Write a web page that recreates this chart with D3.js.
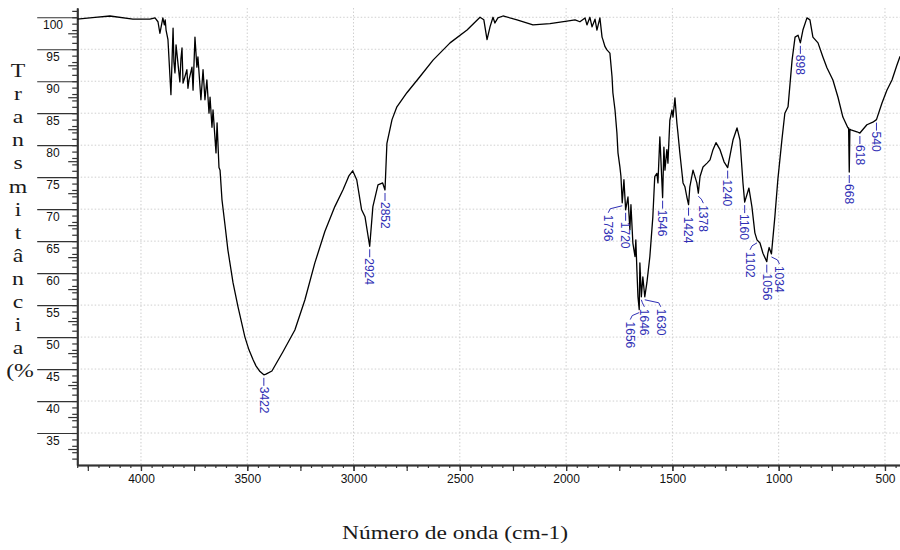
<!DOCTYPE html>
<html>
<head>
<meta charset="utf-8">
<title>Espectro FTIR</title>
<script src="https://d3js.org/d3.v7.min.js"></script>
<style>
    body { margin: 0; background: #fff; }
    svg { display: block; }
</style>
</head>
<body>
<div id="chart"></div>
<script>

// spectrum: wavenumber (cm-1) and transmittance (%)
var wavenumber = [4300, 4216, 4146, 4038, 3958, 3934, 3920, 3911, 3897, 3890, 3886, 3882, 3873, 3859, 3849, 3845, 3840, 3835,
    3817, 3812, 3807, 3802, 3784, 3779, 3774, 3760, 3755, 3746, 3737, 3732, 3718, 3708, 3699, 3690, 3680, 3675, 3666, 3661,
    3647, 3642, 3633, 3628, 3619, 3605, 3591, 3567, 3544, 3511, 3492, 3473, 3459, 3440, 3422, 3412, 3384, 3332, 3276, 3229,
    3182, 3135, 3088, 3050, 3022, 3004, 2985, 2962, 2946,
    2924, 2909, 2885, 2863, 2852, 2843, 2819, 2796, 2749, 2688, 2626, 2546, 2466, 2405, 2387, 2372, 2358, 2344, 2335, 2321,
    2297, 2231, 2156, 2076, 1996, 1958, 1935, 1911, 1902, 1888, 1878, 1864, 1855, 1841, 1831, 1827, 1817, 1808, 1794, 1784,
    1780, 1770, 1761, 1756, 1747, 1742, 1736, 1728, 1720, 1709, 1700, 1695, 1686, 1676, 1672, 1667, 1662, 1656, 1653, 1646,
    1639, 1630, 1620, 1606, 1592, 1583, 1573, 1568, 1559, 1546, 1540, 1535, 1526, 1521, 1512, 1502, 1497, 1488, 1479, 1474,
    1465, 1455, 1450, 1441, 1432, 1424, 1418, 1403, 1385, 1378, 1370, 1356, 1337, 1323, 1309, 1295, 1276, 1257, 1240, 1215,
    1196, 1182, 1168, 1160, 1140, 1126, 1112, 1102, 1088, 1074, 1056, 1051, 1045, 1034, 1018, 1004, 985, 971, 956, 937, 923,
    909, 898, 886, 867, 853, 839, 815, 792, 773, 745, 721, 698, 674, 671, 668, 665, 660, 632, 618, 585, 557, 540, 514, 491,
    467, 444, 430, 402];
var transmit = [99.7, 100.0, 100.2, 99.7, 99.7, 99.9, 99.3, 97.5, 99.9, 98.8, 99.6, 98.0, 96.5, 87.9, 98.3, 93.0, 91.3, 95.7,
    89.9, 93.5, 95.2, 89.7, 91.8, 88.9, 90.2, 92.2, 88.6, 96.9, 92.2, 93.8, 87.1, 91.8, 87.1, 90.2, 85.0, 87.5, 82.8, 85.5,
    78.8, 83.5, 76.5, 76.1, 71.5, 67.6, 63.6, 58.5, 54.8, 50.0, 48.0, 46.5, 45.5, 44.6, 44.1, 44.2, 44.7, 47.7, 51.1, 55.8,
    61.6, 66.5, 70.4, 73.0, 75.2, 76.0, 74.6, 69.9, 68.8,
    64.2, 70.4, 73.8, 74.1, 73.0, 80.3, 84.0, 86.0, 88.2, 90.7, 93.3, 96.0, 98.0, 100.0, 99.6, 96.5, 98.5, 100.0, 99.1, 99.9,
    100.2, 99.6, 98.8, 99.0, 99.4, 99.6, 99.3, 99.9, 98.8, 100.0, 98.5, 99.7, 98.0, 99.9, 96.9, 96.5, 95.4, 94.9, 94.4, 90.7,
    88.2, 85.5, 81.9, 78.8, 76.6, 75.1, 71.0, 74.6, 69.9, 71.9, 66.8, 70.7, 64.7, 62.6, 65.2, 60.5, 56.3, 54.3, 61.6, 56.3,
    59.4, 56.3, 58.5, 62.6, 68.8, 75.1, 75.6, 74.1, 81.3, 71.8, 79.7, 76.1, 79.3, 77.2, 83.9, 85.5, 84.4, 87.4, 83.5, 81.9,
    78.8, 75.7, 74.1, 73.5, 71.9, 70.7, 73.5, 76.1, 74.1, 72.5, 75.1, 76.6, 77.2, 77.7, 79.3, 80.4, 79.3, 77.4, 76.5, 80.8,
    82.7, 80.8, 74.1, 71.1, 73.3, 70.4, 66.3, 65.2, 64.7, 63.1, 61.8, 63.1, 64.0, 63.0, 68.8, 74.6, 80.8, 85.0, 86.0, 93.3, 96.9,
    97.2, 96.0, 98.0, 99.9, 99.6, 96.9, 96.0, 93.8, 92.1, 90.2, 87.5, 84.4, 82.7, 82.7, 75.8, 82.5, 82.4, 82.1, 81.9, 83.2, 83.6, 84.0, 86.6, 88.6,
    90.2, 92.5, 93.8, 94.9];

// picked peaks
var peakWn = [3422, 2924, 2852, 1736, 1720, 1656, 1646, 1630, 1546, 1424, 1378, 1240, 1160, 1102, 1056, 1034, 898, 668, 618, 540];

var xTicks = [4000, 3500, 3000, 2500, 2000, 1500, 1000, 500];
var yTicks = [35, 40, 45, 50, 55, 60, 65, 70, 75, 80, 85, 90, 95, 100];

var yTitle = "Transmitância (%";
var xTitle = "Número de onda (cm-1)";

var W = 900, H = 550;
var plotLeft = 77.2, plotBottom = 465, plotTop = 8;

var svg = d3.select("#chart")
    .append("svg")
    .attr("width", W)
    .attr("height", H);

var x = d3.scaleLinear()
    .domain([4300, 400])
    .range([plotLeft, plotLeft + 3900 * 0.212571]);

var y = d3.scaleLinear()
    .domain([30, 101.45])
    .range([plotBottom, plotTop]);

svg.append("clipPath").attr("id", "plot")
    .append("rect")
    .attr("x", plotLeft).attr("y", 0)
    .attr("width", W - plotLeft).attr("height", plotBottom);

// dotted grid
var grid = svg.append("g")
    .attr("stroke", "#cfcfcf")
    .attr("stroke-width", 1)
    .attr("stroke-dasharray", "1.5,2");
grid.selectAll("line.h")
    .data(yTicks)
    .enter().append("line")
    .attr("class", "h")
    .attr("x1", plotLeft).attr("x2", W)
    .attr("y1", function (d) { return y(d); })
    .attr("y2", function (d) { return y(d); });
grid.selectAll("line.v")
    .data(xTicks)
    .enter().append("line")
    .attr("class", "v")
    .attr("y1", plotTop).attr("y2", plotBottom)
    .attr("x1", function (d) { return x(d); })
    .attr("x2", function (d) { return x(d); });

// Y axis: minor ticks every 1, medium every 2.5, long ticks every 5
var yMinor = d3.range(31, 102, 1);
var yMid = d3.range(32.5, 102, 5);
svg.append("g")
    .attr("transform", "translate(" + plotLeft + ",0)")
    .call(d3.axisLeft(y).tickValues(yMinor).tickSize(5).tickSizeOuter(0).tickFormat(""));
svg.append("g")
    .attr("transform", "translate(" + plotLeft + ",0)")
    .call(d3.axisLeft(y).tickValues(yMid).tickSize(9).tickSizeOuter(0).tickFormat(""));
svg.append("g")
    .attr("transform", "translate(" + plotLeft + ",0)")
    .call(d3.axisLeft(y).tickValues(yTicks).tickSize(40).tickSizeOuter(0).tickFormat(""));

svg.selectAll("text.ylab")
    .data(yTicks)
    .enter().append("text")
    .attr("class", "ylab")
    .attr("x", 53)
    .attr("y", function (d) { return y(d) + 12.2; })
    .attr("text-anchor", "middle")
    .style("font", "12px 'Liberation Sans', Arial, sans-serif")
    .attr("fill", "#111")
    .text(function (d) { return d; });

// X axis: minor every 50, longer every 250
var xMinor = d3.range(4300, 399, -50);
var xMid = d3.range(4250, 399, -250);
svg.append("g")
    .attr("transform", "translate(0," + plotBottom + ")")
    .call(d3.axisBottom(x).tickValues(xMinor).tickSize(3).tickSizeOuter(0).tickFormat(""));
svg.append("g")
    .attr("transform", "translate(0," + plotBottom + ")")
    .call(d3.axisBottom(x).tickValues(xMid).tickSize(6).tickSizeOuter(0).tickFormat(""));
svg.append("g")
    .attr("transform", "translate(0," + plotBottom + ")")
    .call(d3.axisBottom(x).tickValues(xTicks).tickSize(6).tickPadding(3).tickSizeOuter(0).tickFormat(d3.format("d")))
    .selectAll("text")
    .style("font", "12px 'Liberation Sans', Arial, sans-serif")
    .attr("fill", "#111");

svg.selectAll(".domain").attr("stroke", "#333").attr("stroke-width", 1.6);
svg.selectAll(".tick line").attr("stroke", "#333").attr("stroke-width", 1.2);

// spectrum
var pts = wavenumber.map(function (d, i) { return [d, transmit[i]]; });
svg.append("path")
    .datum(pts)
    .attr("clip-path", "url(#plot)")
    .attr("fill", "none")
    .attr("stroke", "#000")
    .attr("stroke-width", 1.3)
    .attr("stroke-linejoin", "round")
    .attr("d", d3.line()
        .x(function (d) { return x(d[0]); })
        .y(function (d) { return y(d[1]); }));

// peak labels
function valueAt(wn) {
    var i = wavenumber.indexOf(wn);
    if (i >= 0) return transmit[i];
    var j = d3.bisector(function (d) { return -d; }).left(wavenumber, -wn);
    var t = (wn - wavenumber[j - 1]) / (wavenumber[j] - wavenumber[j - 1]);
    return transmit[j - 1] + t * (transmit[j] - transmit[j - 1]);
}
// labels that the software pushed sideways, with a bent leader
var nudge = { 1736: -14, 1656: -9, 1646: 3, 1630: 16, 1378: 5, 1102: -7, 1034: 8 };
var blue = "#2e2eb4";
var lab = svg.append("g");
peakWn.forEach(function (wn) {
    var px = x(wn), py = y(valueAt(wn)) + 3;
    var dx = nudge[wn] || 0;
    var tx = px + dx, ty = py + 9;
    if (dx) {
        lab.append("path")
            .attr("d", "M" + px + "," + py + " L" + (tx + (dx > 0 ? -2 : 2)) + "," + (py + 3) + " L" + tx + "," + (py + 7))
            .attr("fill", "none").attr("stroke", blue).attr("stroke-width", 1);
    } else {
        lab.append("line")
            .attr("x1", px).attr("x2", px)
            .attr("y1", py).attr("y2", py + 8)
            .attr("stroke", blue).attr("stroke-width", 1);
    }
    lab.append("text")
        .attr("transform", "translate(" + tx + "," + ty + ") rotate(90)")
        .attr("dy", "0.35em")
        .style("font", "12px 'Liberation Sans', Arial, sans-serif")
        .attr("fill", blue)
        .text(wn);
});

// axis titles
var parts = yTitle.split(" ")[0].split("").concat([yTitle.split(" ")[1]]);
svg.selectAll("text.yt")
    .data(parts)
    .enter().append("text")
    .attr("class", "yt")
    .attr("transform", function (d, i) {
        return "translate(" + (i == parts.length - 1 ? 20 : 18) + "," + (77 + i * 23.1) + ") scale(1.25,1)";
    })
    .attr("text-anchor", "middle")
    .style("font", "19px 'Liberation Serif', 'Times New Roman', serif")
    .attr("fill", "#1a1a1a")
    .text(function (d) { return d; });

svg.append("text")
    .attr("x", 342)
    .attr("y", 539)
    .attr("textLength", 226)
    .attr("lengthAdjust", "spacingAndGlyphs")
    .style("font", "19px 'Liberation Serif', 'Times New Roman', serif")
    .attr("fill", "#1a1a1a")
    .text(xTitle);

</script>
</body>
</html>
